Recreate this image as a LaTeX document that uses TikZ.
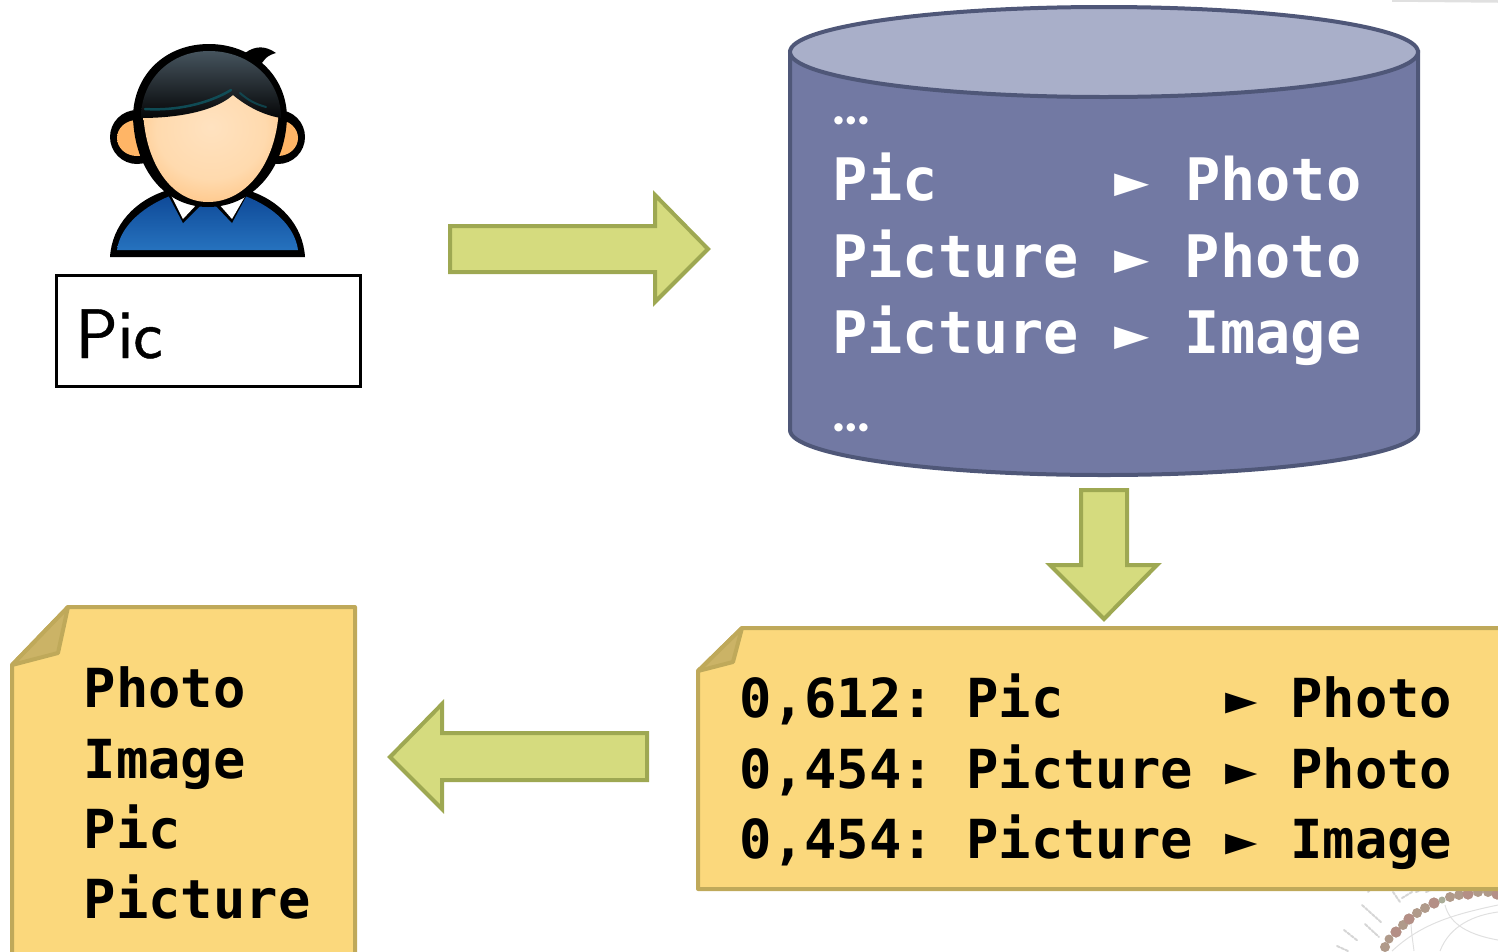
\documentclass[tikz,border=0pt]{standalone}
\usepackage{fontspec}
\setmainfont{Latin Modern Sans}
\newfontfamily\codefont{DejaVu Sans Mono}
\newfontfamily\dotsfont{Carlito}
\newfontfamily\boxfont[FakeBold=0.6]{Latin Modern Sans}
\definecolor{arrowfill}{HTML}{D5DB7E}
\definecolor{arrowline}{HTML}{9EA852}
\definecolor{docfill}{HTML}{FBD87C}
\definecolor{docline}{HTML}{BFA95A}
\definecolor{foldfill}{HTML}{CBB366}
\definecolor{cylbody}{HTML}{7279A3}
\definecolor{cyltop}{HTML}{A9AFC9}
\definecolor{cylline}{HTML}{4F5778}
\definecolor{dotA}{HTML}{B09A8A}
\definecolor{dotB}{HTML}{B48F86}
\definecolor{dotC}{HTML}{A9AD98}
\definecolor{shirtA}{HTML}{0F4A98}
\definecolor{shirtB}{HTML}{1257A8}
\definecolor{shirtC}{HTML}{2672BE}
\definecolor{hairA}{HTML}{46545E}
\definecolor{hairB}{HTML}{14191D}
\definecolor{hairC}{HTML}{050607}
\definecolor{streak}{HTML}{0F5560}
\definecolor{faceA}{HTML}{FFE2C0}
\definecolor{faceB}{HTML}{FFDAAE}
\definecolor{faceC}{HTML}{FFBE78}
\definecolor{faceD}{HTML}{F7A53C}
\definecolor{earA}{HTML}{FFB566}
\pgfdeclareradialshading{faceshade}{\pgfpoint{0bp}{6bp}}{%
  color(0bp)=(faceA);color(20bp)=(faceB);color(36bp)=(faceC);color(48bp)=(faceD);color(80bp)=(faceD)}
\pgfdeclareradialshading{earshade}{\pgfpoint{0bp}{0bp}}{%
  color(0bp)=(earA);color(25bp)=(earA);color(50bp)=(faceD);color(80bp)=(faceD)}
\tikzset{
  blockarrow/.style={draw=arrowline,fill=arrowfill,line width=4pt,miter limit=10},
  docshape/.style={draw=docline,fill=docfill,line width=4pt,line join=round},
  foldshape/.style={draw=docline,fill=foldfill,line width=4pt,line join=round},
  cylcode/.style={anchor=base west,inner sep=0pt,text=white,font=\codefont\bfseries\fontsize{58.6}{58.6}\selectfont\frenchspacing},
  doccode/.style={anchor=base west,inner sep=0pt,text=black,font=\codefont\bfseries\fontsize{53.8}{53.8}\selectfont\frenchspacing},
  cyldots/.style={anchor=base west,inner sep=0pt,text=white,font=\dotsfont\bfseries\fontsize{56}{56}\selectfont},
  wheeldot/.style={circle,inner sep=0pt,fill=dotA},
  wheelline/.style={draw=black!12,line width=1pt},
  wheelmark/.style={draw=black!16,line width=2pt,line cap=round,dash pattern=on 3pt off 1.5pt},
}
\begin{document}
\begin{tikzpicture}[x=1pt,y=-1pt]
\useasboundingbox (0,0) rectangle (1498,951);
\clip (0,0) rectangle (1498,951);
% faint remains at the picture's edges
\draw[draw=black!12,line width=2.5pt] (1392,0.5) -- (1498,1.5);
\draw[wheelline] (1392,951) .. controls (1420,925) and (1450,915) .. (1498,905);
\draw[wheelline] (1440,951) .. controls (1450,925) and (1475,915) .. (1498,912);
\draw[wheelline] (1445,905) .. controls (1450,925) and (1470,935) .. (1498,940);
\draw[wheelline] (1414,951) .. controls (1412,935) and (1410,925) .. (1412,918);
\foreach \a/\b/\c/\d in {1368/892/1374/886,1362/905/1382/923,1365/924/1379/937,1344/930/1358/941,1337/946/1348/951,1393/892/1400/902,1412/892/1402/898,1416/892/1421/890,1426/892/1431/890}
  \draw[wheelmark] (\a,\b) -- (\c,\d);
\foreach \x/\y/\r in {1385/947/10,1389/939/9,1396/932/11,1403/925/10,1409/919/11,1417/913/10,1425/908/10,1434/903/11,1450/897/10,1459/895/10,1468/894/11,1478/892/10,1488/892/10,1497/894/11}
  \node[wheeldot,minimum size=\r pt] at (\x,\y) {};
\foreach \x/\y/\r in {1396/932/11,1409/919/11,1434/903/11,1468/894/11,1497/894/11}
  \node[wheeldot,fill=dotB,minimum size=\r pt] at (\x,\y) {};
\node[wheeldot,fill=dotC,minimum size=7pt] at (1442,900) {};

% person: shoulders
\fill[black] (110,257) .. controls (112,225) and (135,200) .. (168,190) -- (247,190)
  .. controls (280,200) and (303,225) .. (305,257) -- cycle;
\shade[top color=shirtA,middle color=shirtB,bottom color=shirtC]
  (117,250) .. controls (120,228) and (140,208) .. (170,196) -- (245,196)
  .. controls (276,208) and (295,228) .. (298,250) -- cycle;
\fill[black] (165,189) -- (183,223) -- (202,204) -- (214,204) -- (232,223) -- (250,189) -- cycle;
\fill[white] (170,193) -- (183,219) -- (198,203) -- (218,203) -- (232,219) -- (247,193) -- cycle;
% person: ears
\fill[black] (137,137) ellipse [x radius=27,y radius=27];
\fill[black] (278,137) ellipse [x radius=27,y radius=27];
\shade[shading=earshade] (137,138) ellipse [x radius=20,y radius=18];
\shade[shading=earshade] (278,138) ellipse [x radius=20,y radius=18];
% person: head
\fill[black] (245,53) .. controls (256,45) and (266,46) .. (276,53) .. controls (268,55) and (262,60) .. (260,68) -- (240,60) -- cycle;
\fill[black] (209,44) .. controls (165,44) and (133,75) .. (133,118)
  .. controls (135,170) and (165,207) .. (208,207) .. controls (252,207) and (285,170) .. (287,118)
  .. controls (287,75) and (252,44) .. (209,44) -- cycle;
\shade[shading=faceshade]
  (143,105) .. controls (143,160) and (170,202) .. (208,202) .. controls (248,202) and (278,160) .. (279,105) -- (233,80) -- cycle;
% person: hair
\shade[top color=hairA,middle color=hairB,bottom color=hairC]
  (209,51) .. controls (170,51) and (141,80) .. (141,118)
  .. controls (165,118) and (210,115) .. (233,95) .. controls (245,105) and (262,115) .. (281,118)
  .. controls (281,80) and (250,51) .. (209,51) -- cycle;
\draw[draw=streak,line width=2.5pt,line cap=round,opacity=.85] (145,109) .. controls (175,111) and (208,104) .. (231,90);
\draw[draw=streak,line width=2pt,line cap=round,opacity=.7] (240,93) .. controls (248,100) and (255,104) .. (266,107);

% person's query box
\node[draw=black,line width=3pt,minimum width=304pt,minimum height=111pt,inner sep=0pt] (query) at (208,330.5) {};
\node[anchor=base west,inner sep=0pt,font=\boxfont\fontsize{70}{70}\selectfont] (querytext) at (75.5,358) {Pic};

% arrows
\draw[blockarrow] (450,226) -- (655,226) -- (655,195) -- (708,249) -- (655,302) -- (655,272) -- (450,272) -- cycle;
\draw[blockarrow] (1081,490) -- (1127,490) -- (1127,565) -- (1157,565) -- (1104,619) -- (1050,565) -- (1081,565) -- cycle;
\draw[blockarrow] (647,733) -- (442,733) -- (442,704) -- (390,757) -- (442,809) -- (442,780) -- (647,780) -- cycle;

% database
\draw[draw=cylline,fill=cylbody,line width=4pt] (790,52) -- (790,430)
  .. controls (790,455) and (931,475) .. (1104,475) .. controls (1277,475) and (1418,455) .. (1418,430)
  -- (1418,52) -- cycle;
\draw[draw=cylline,fill=cyltop,line width=4pt] (1104,52) ellipse [x radius=314,y radius=45];
\node[cyldots] (r0) at (831,124) {…};
\node[cylcode] (r1) at (832,200) {Pic\ \ \ \ \ ► Photo};
\node[cylcode] (r2) at (832,277) {Picture ► Photo};
\node[cylcode] (r3) at (832,353) {Picture ► Image};
\node[cyldots] (r4) at (831,431) {…};

% scored rules document
\draw[docshape] (698,671) -- (742,628) -- (1510,628) -- (1510,889) -- (698,889) -- cycle;
\draw[foldshape] (698,671) -- (742,628) -- (733,662) -- cycle;
\node[doccode] (s1) at (739.5,717) {0,612: Pic\ \ \ \ \ ► Photo};
\node[doccode] (s2) at (739.5,788) {0,454: Picture ► Photo};
\node[doccode] (s3) at (739.5,858) {0,454: Picture ► Image};

% expanded query document
\draw[docshape] (12,665) -- (68,607) -- (355,607) -- (355,965) -- (12,965) -- cycle;
\draw[foldshape] (12,665) -- (68,607) -- (58,653) -- cycle;
\node[doccode] (q1) at (83.5,707) {Photo};
\node[doccode] (q2) at (83.5,778) {Image};
\node[doccode] (q3) at (83.5,848) {Pic};
\node[doccode] (q4) at (83.5,918) {Picture};
\end{tikzpicture}
\end{document}
